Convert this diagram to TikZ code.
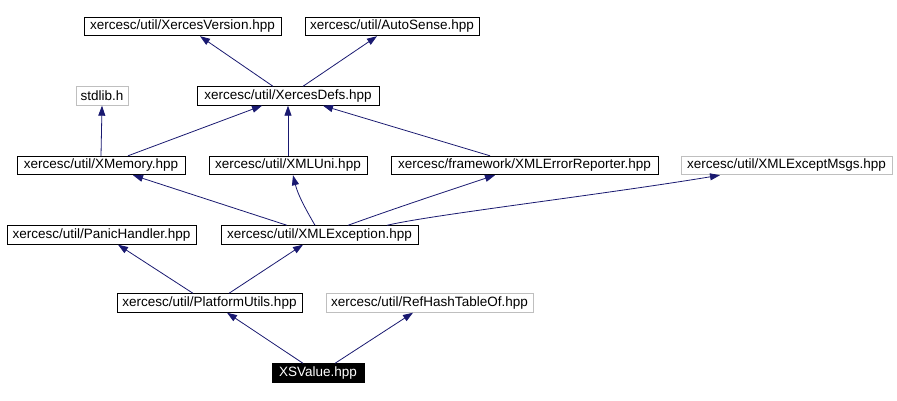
\documentclass[tikz,border=0pt]{standalone}
\usepackage{fontspec}
\setmainfont{Liberation Sans}
\usetikzlibrary{arrows.meta}
\definecolor{edgeblue}{HTML}{191970}
\definecolor{lightgray}{HTML}{BFBFBF}
\tikzset{
  box/.style={draw=black, line width=0.9pt, rectangle, inner sep=0pt, minimum height=18.5pt, font=\fontsize{13.5}{14}\selectfont, fill=white},
  graybox/.style={box, draw=lightgray},
  mainbox/.style={box, fill=black, text=white},
  dep/.style={draw=edgeblue, line width=0.8pt, -{Triangle[length=10pt,width=7pt]}},
}
\begin{document}
\begin{tikzpicture}[x=1pt,y=-1pt]
\useasboundingbox (0,0) rectangle (897,401);
\node[box, minimum width=197pt] (xv) at (182.5,26.5) {xercesc/util/XercesVersion.hpp};
\node[box, minimum width=174pt] (as) at (392,26.5) {xercesc/util/AutoSense.hpp};
\node[graybox, minimum width=52pt] (sl) at (102,96) {stdlib.h};
\node[box, minimum width=182pt] (xd) at (288,96) {xercesc/util/XercesDefs.hpp};
\node[box, minimum width=168pt] (xm) at (101,165.5) {xercesc/util/XMemory.hpp};
\node[box, minimum width=158pt] (xu) at (288,165.5) {xercesc/util/XMLUni.hpp};
\node[box, minimum width=267pt] (er) at (524.5,165.5) {xercesc/framework/XMLErrorReporter.hpp};
\node[graybox, minimum width=211pt] (em) at (786.5,165.5) {xercesc/util/XMLExceptMsgs.hpp};
\node[box, minimum width=189pt] (ph) at (101.5,235) {xercesc/util/PanicHandler.hpp};
\node[box, minimum width=197pt] (xe) at (319.5,235) {xercesc/util/XMLException.hpp};
\node[box, minimum width=185pt] (pu) at (209.5,303) {xercesc/util/PlatformUtils.hpp};
\node[graybox, minimum width=207pt] (rh) at (429.5,303) {xercesc/util/RefHashTableOf.hpp};
\node[mainbox, minimum width=92pt] (xs) at (318,373) {XSValue.hpp};

\draw[dep] ([xshift=-15pt]xd.north) -- ([xshift=17.5pt]xv.south);
\draw[dep] ([xshift=15pt]xd.north) -- ([xshift=-15pt]as.south);
\draw[dep] (xm.north) -- (sl.south);
\draw[dep] ([xshift=27pt]xm.north) -- ([xshift=-26pt]xd.south);
\draw[dep] (xu.north) -- (xd.south);
\draw[dep] ([xshift=-34.5pt]er.north) -- ([xshift=35pt]xd.south);
\draw[dep] ([xshift=-32.5pt]xe.north) -- ([xshift=32pt]xm.south);
\draw[dep] ([xshift=-4.5pt]xe.north) .. controls (305,208) and (298,195) .. ([xshift=5pt]xu.south);
\draw[dep] ([xshift=28.5pt]xe.north) .. controls (390,210) and (450,190) .. ([xshift=-29.5pt]er.south);
\draw[dep] ([xshift=67.5pt]xe.north) .. controls (430,215) and (600,195) .. ([xshift=-66.5pt]em.south);
\draw[dep] ([xshift=-16.5pt]pu.north) -- ([xshift=16.5pt]ph.south);
\draw[dep] ([xshift=19.5pt]pu.north) -- ([xshift=-16.5pt]xe.south);
\draw[dep] ([xshift=-15pt]xs.north) -- ([xshift=17.5pt]pu.south);
\draw[dep] ([xshift=17pt]xs.north) -- ([xshift=-16.5pt]rh.south);
\end{tikzpicture}
\end{document}
